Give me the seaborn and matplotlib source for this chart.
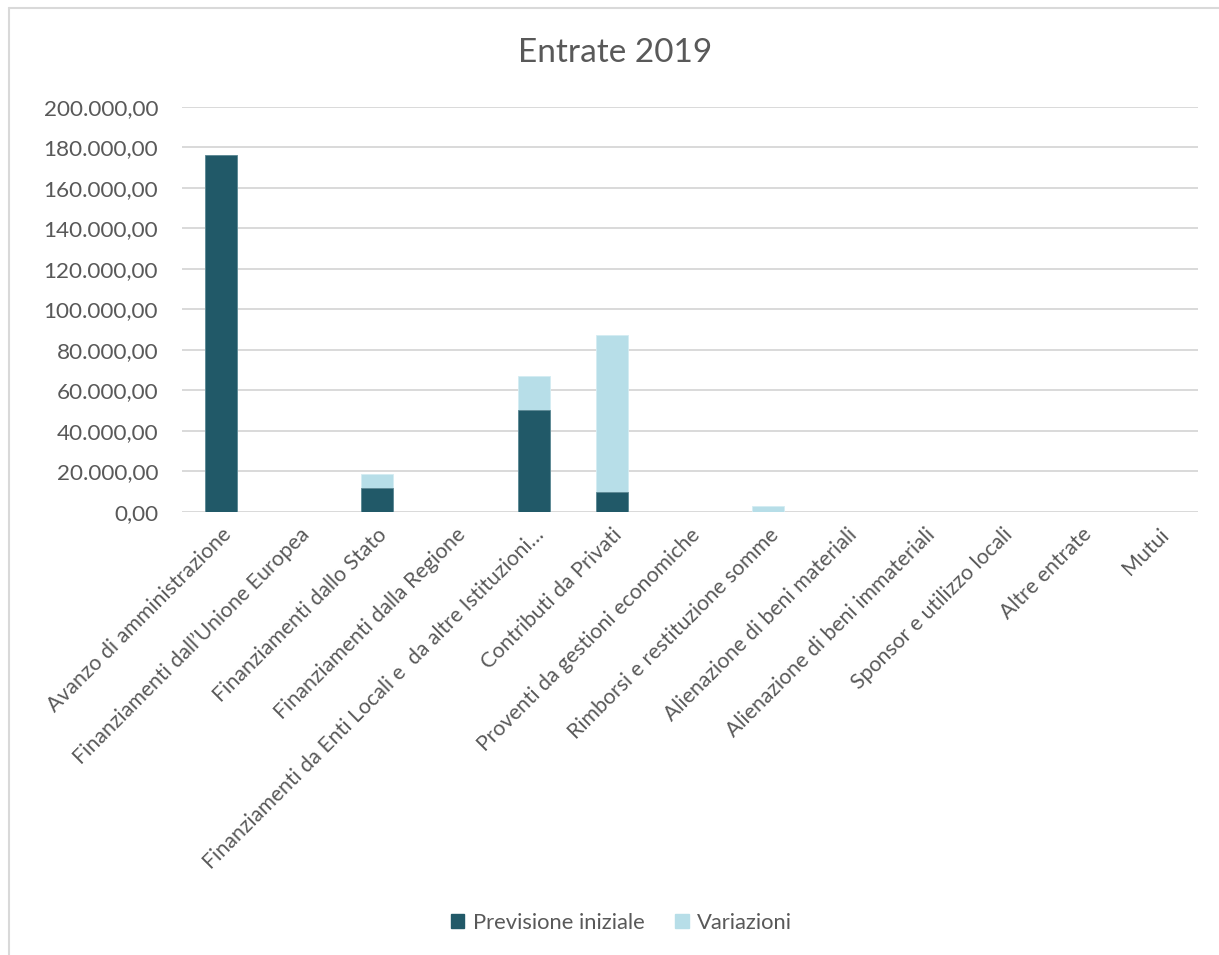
import matplotlib
matplotlib.use("Agg")
import matplotlib.pyplot as plt
from matplotlib.ticker import FuncFormatter
from matplotlib.patches import Patch
from matplotlib.lines import Line2D
import pandas as pd
import seaborn as sns

categorie = [
    "Avanzo di amministrazione",
    "Finanziamenti dall\u2019Unione Europea",
    "Finanziamenti dallo Stato",
    "Finanziamenti dalla Regione",
    "Finanziamenti da Enti Locali e  da altre Istituzioni\u2026",
    "Contributi da Privati",
    "Proventi da gestioni economiche",
    "Rimborsi e restituzione somme",
    "Alienazione di beni materiali",
    "Alienazione di beni immateriali",
    "Sponsor e utilizzo locali",
    "Altre entrate",
    "Mutui",
]
previsione_iniziale = [176500, 0, 12000, 0, 50500, 10000, 0, 0, 0, 0, 0, 0, 0]
variazioni = [0, 0, 6800, 0, 16800, 77500, 0, 3000, 0, 0, 0, 0, 0]

scuro = "#215968"
chiaro = "#B7DEE8"
testo = "#595959"

df = pd.DataFrame({
    "categoria": categorie,
    "previsione": previsione_iniziale,
    "variazioni": variazioni,
})
df["totale"] = df["previsione"] + df["variazioni"]

sns.set_theme(style="white")
plt.rcParams["font.family"] = ["Lato", "DejaVu Sans"]

fig = plt.figure(figsize=(12.19, 9.55), dpi=100)
ax = fig.add_axes([0.149, 0.464, 0.834, 0.424])

# stacked bars: total in the light colour, initial forecast drawn over it
sns.barplot(data=df, x="categoria", y="totale", color=chiaro, width=0.41,
            saturation=1, edgecolor="#d4ecf2", linewidth=0.6, ax=ax)
sns.barplot(data=df, x="categoria", y="previsione", color=scuro, width=0.41,
            saturation=1, edgecolor="#5d8894", linewidth=0.6, ax=ax)

ax.set_ylim(0, 200000)
ax.set_yticks(range(0, 200001, 20000))


def formato_it(v, _):
    s = f"{v:,.2f}"
    return s.replace(",", "X").replace(".", ",").replace("X", ".")


ax.yaxis.set_major_formatter(FuncFormatter(formato_it))
ax.grid(axis="y", color="#D9D9D9", linewidth=1.4)
ax.set_axisbelow(True)
for s in ax.spines.values():
    s.set_visible(False)
ax.set_xlabel("")
ax.set_ylabel("")
ax.tick_params(axis="y", length=0, pad=17, labelsize=16.2, labelcolor=testo)
ax.tick_params(axis="x", length=0, pad=9, labelsize=15.3, labelcolor=testo)
ax.set_xticks(range(len(categorie)))
ax.set_xticklabels(categorie, rotation=45, ha="right", rotation_mode="anchor")
ax.set_xlim(-0.5, len(categorie) - 0.5)

fig.text(0.505, 0.945, "Entrate 2019", ha="center", va="center",
         fontsize=24, color=testo)

handles = [Patch(facecolor=scuro, edgecolor=scuro, label="Previsione iniziale"),
           Patch(facecolor=chiaro, edgecolor=chiaro, label="Variazioni")]
fig.legend(handles=handles, loc="center", bbox_to_anchor=(0.510, 0.034), ncol=2,
           frameon=False, fontsize=15.8, labelcolor=testo, handlelength=0.6,
           handleheight=0.6, handletextpad=0.4, columnspacing=1.4)

# chart frame along the top and left edges
fig.add_artist(Line2D([0.0072, 1.0], [0.9916, 0.9916], transform=fig.transFigure,
                      color="#D9D9D9", linewidth=1.5))
fig.add_artist(Line2D([0.0072, 0.0072], [0.0, 0.9916], transform=fig.transFigure,
                      color="#D9D9D9", linewidth=1.5))

fig.savefig("out.png", dpi=100, facecolor="white")
